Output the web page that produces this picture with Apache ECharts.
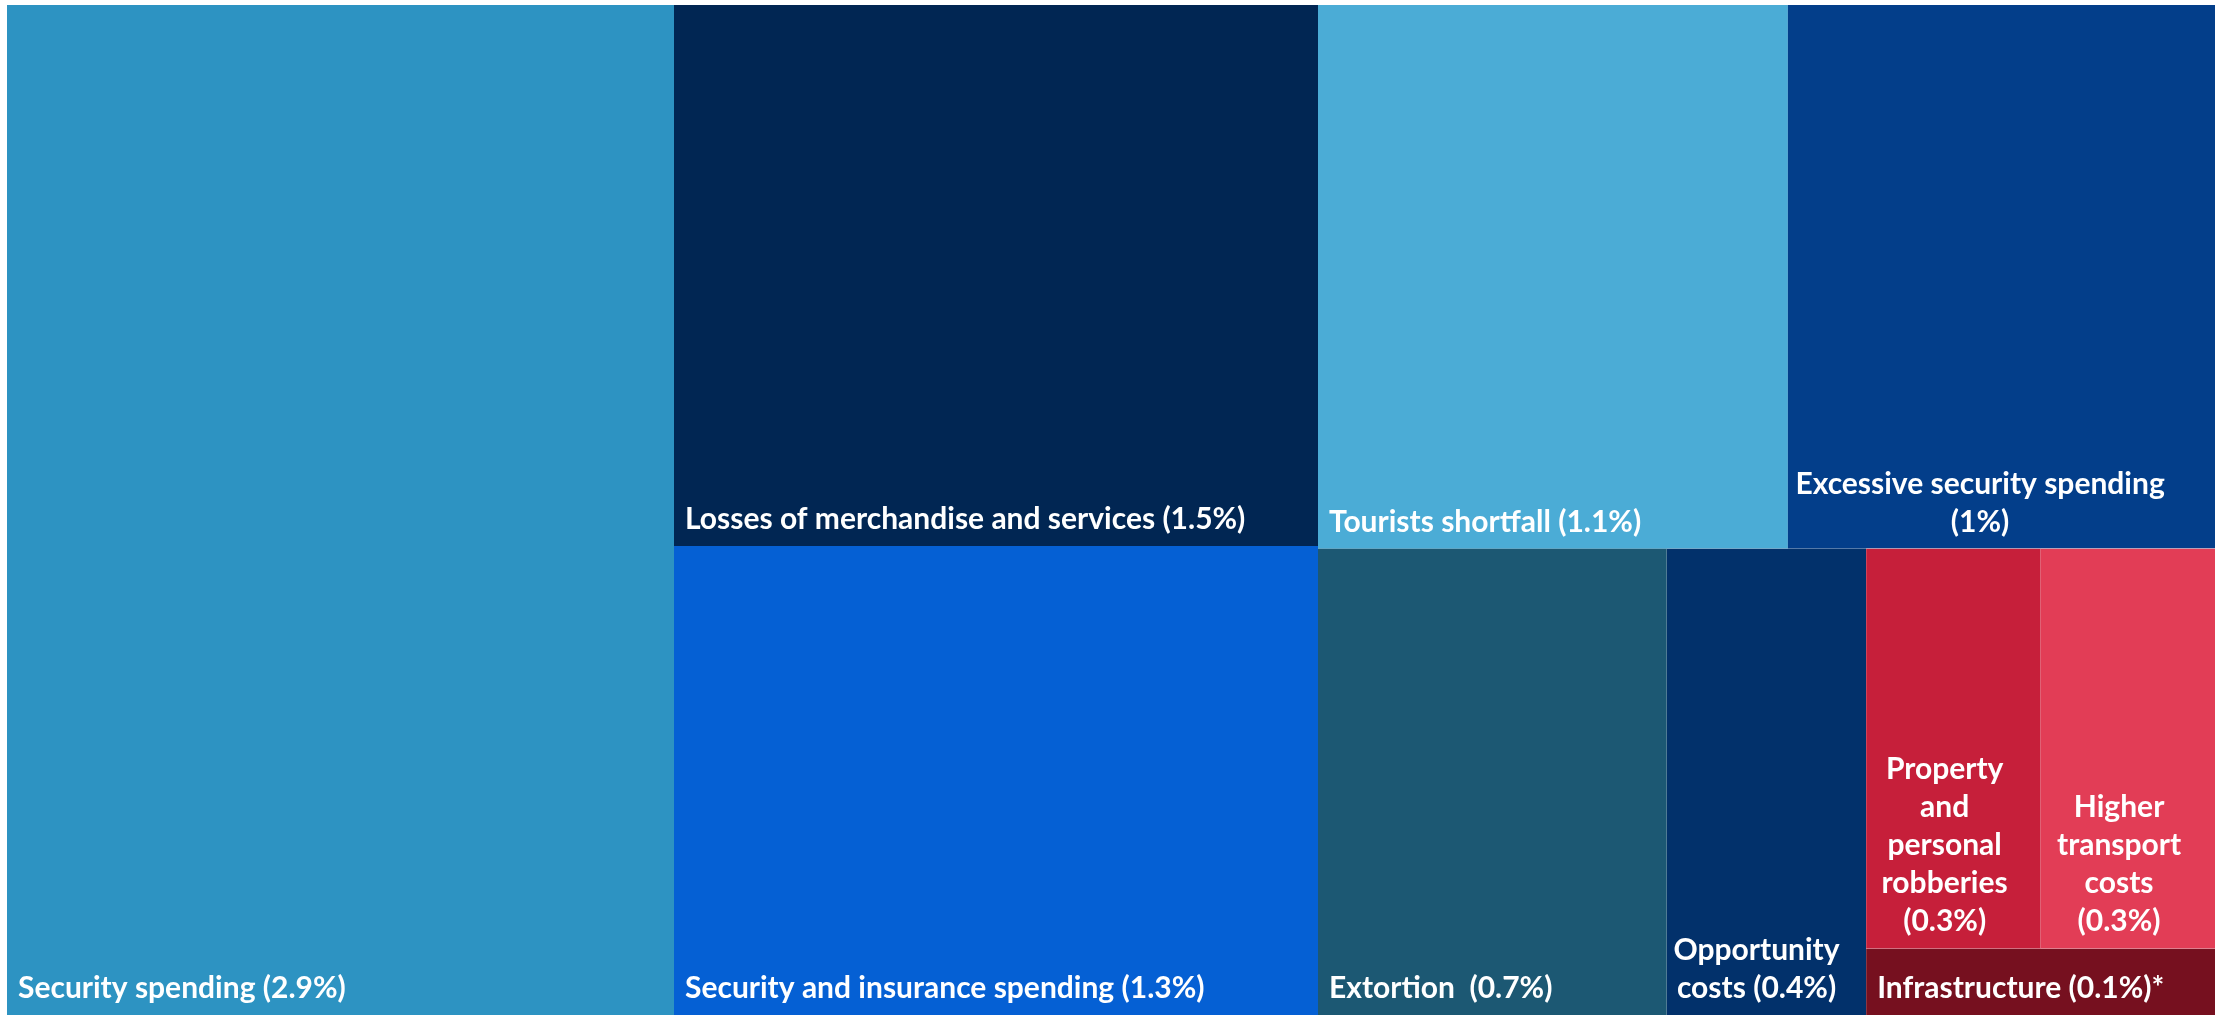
<!DOCTYPE html>
<html lang="en">
<head>
    <meta charset="UTF-8">
    <title>Cost of crime</title>
    <style>
        html, body { margin: 0; padding: 0; background: #fff; }
    </style>
</head>
<body>

<div id="main" style="width: 2215px;height:1015px;"></div>

<script src="https://cdn.jsdelivr.net/npm/echarts@6/dist/echarts.min.js" charset="utf-8"></script>

<script type="text/javascript">

    // share of GDP (%)
    var names = ['Security spending', 'Losses of merchandise and services', 'Security and insurance spending',
        'Tourists shortfall', 'Excessive security spending', 'Extortion', 'Opportunity costs',
        'Property and personal robberies', 'Higher transport costs', 'Infrastructure'];
    var shares = [2.9, 1.5, 1.3, 1.1, 1.0, 0.7, 0.4, 0.3, 0.3, 0.1];
    var labels = ['Security spending (2.9%)', 'Losses of merchandise and services (1.5%)',
        'Security and insurance spending (1.3%)', 'Tourists shortfall (1.1%)',
        'Excessive security spending\n(1%)', 'Extortion  (0.7%)', 'Opportunity\ncosts (0.4%)',
        'Property\nand\npersonal\nrobberies\n(0.3%)', 'Higher\ntransport\ncosts\n(0.3%)',
        'Infrastructure (0.1%)*'];
    var colors = ['#2D93C2', '#012653', '#0560D4', '#4BACD6', '#033E8A', '#1C5873',
        '#02316B', '#C61F3A', '#E23D56', '#76101F'];

    function leaf(i) {
        var node = {
            name: names[i],
            value: shares[i],
            itemStyle: {color: colors[i]}
        };
        // wrapped labels are centred line by line, like the original
        if (labels[i].indexOf('\n') >= 0) {
            node.label = {
                position: ['45%', '100%'],
                align: 'center',
                verticalAlign: 'bottom',
                lineHeight: 38,
                offset: [0, -8]
            };
        }
        return node;
    }

    // grouping keeps the squarified layout close to the original
    var tree = [leaf(0), leaf(1), leaf(2), leaf(3), leaf(4), leaf(5), {
        name: 'rest',
        children: [leaf(6), {
            name: 'small',
            children: [{name: 'robberies', children: [leaf(7), leaf(8)]}, leaf(9)]
        }]
    }];

    var myChart = echarts.init(document.getElementById('main'));

    var option = {
        animation: false,
        series: [{
            type: 'treemap',
            left: 7,
            top: 5,
            right: 0,
            bottom: 0,
            sort: false,
            squareRatio: 1.16,
            roam: false,
            nodeClick: false,
            breadcrumb: {show: false},
            itemStyle: {borderWidth: 0, gapWidth: 0},
            upperLabel: {show: false},
            label: {
                show: true,
                position: 'insideBottomLeft',
                distance: 11,
                padding: 0,
                color: '#fff',
                fontFamily: 'Lato',
                fontWeight: 'bold',
                fontSize: 30,
                lineHeight: 32,
                formatter: function (p) {
                    return labels[names.indexOf(p.name)] || '';
                }
            },
            emphasis: {disabled: true},
            data: tree
        }]
    };

    myChart.setOption(option);

</script>
</body>
</html>
